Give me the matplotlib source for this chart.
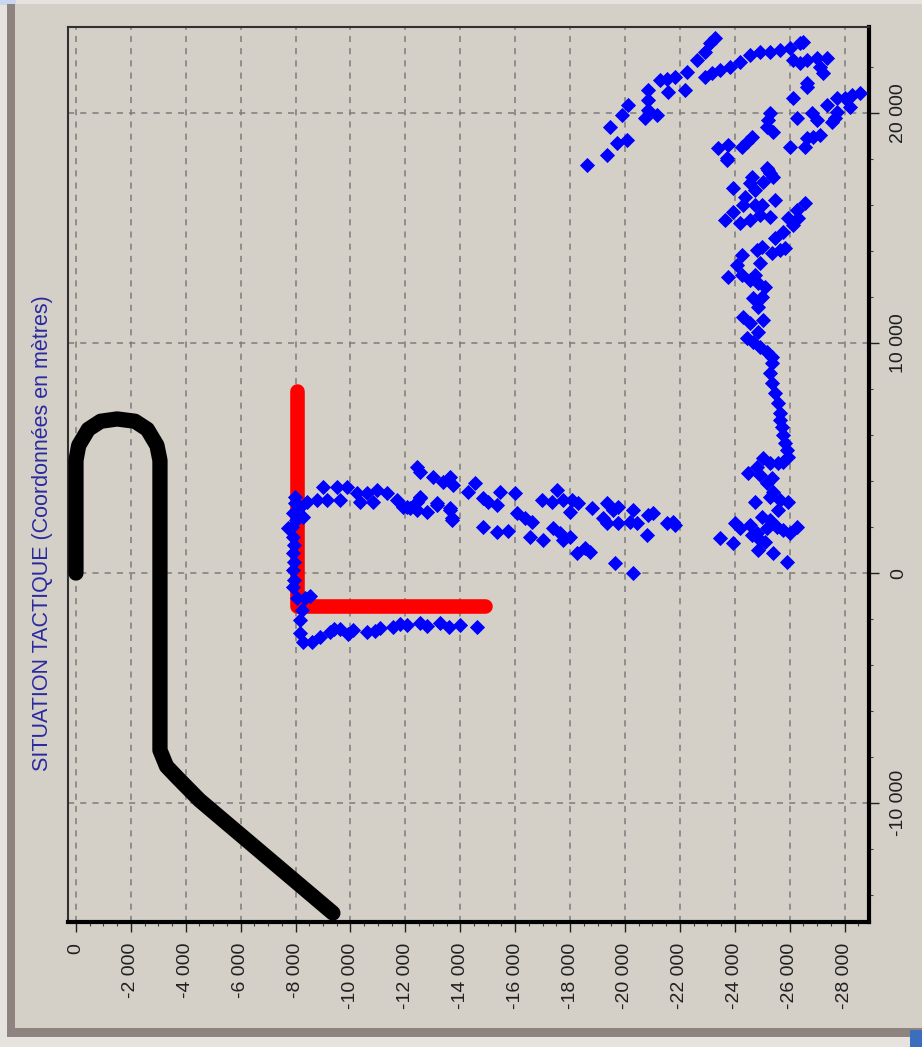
import numpy as np
import matplotlib
matplotlib.use("Agg")
import matplotlib.pyplot as plt
from matplotlib.patches import Rectangle
from matplotlib.ticker import MultipleLocator, FuncFormatter

plt.rcParams['font.family'] = ['Liberation Sans', 'DejaVu Sans']

TITLE = "SITUATION TACTIQUE (Coordonnées en mètres)"

# own ship track (black)
black_x = [0, 0, -100, -450, -900, -1500, -2150, -2600, -2950, -3060, -3060,
           -3300, -3700, -4500, -9360]
black_y = [0, 4900, 5550, 6250, 6600, 6700, 6600, 6250, 5550, 4900, -7700,
           -8400, -8900, -9870, -14780]

# second track (red)
red_x = [-8050, -8050, -14900]
red_y = [7900, -1450, -1450]

# contact positions (blue), metres
blue_lower = [
    (-14610, -2350), (-13990, -2260), (-13600, -2350), (-13260, -2170), (-12800, -2300),
    (-12530, -2170), (-12060, -2260), (-11800, -2200), (-11550, -2350), (-11080, -2390),
    (-10900, -2500), (-10600, -2570), (-10090, -2480), (-9900, -2650), (-9620, -2440),
    (-9400, -2450), (-9250, -2570), (-8890, -2780), (-8600, -3000), (-8270, -3000),
    (-8160, -2610), (-8160, -2040), (-8230, -1610), (-8340, -1090), (-8530, -1000),
    (-8050, -1090),
]
blue_left = [
    (-7910, -610), (-7950, -300), (-7910, 130), (-7950, 500), (-7910, 870), (-7950, 1200),
    (-7910, 1570), (-7720, 1960), (-7870, 2000), (-8000, 2300), (-7910, 2610), (-7980, 3040),
    (-7980, 3300), (-8270, 2440), (-8160, 2870), (-8420, 3090), (-8780, 3170), (-9140, 3170),
    (-9620, 3170), (-9000, 3740), (-9510, 3740), (-9870, 3740), (-10240, 3480), (-10600, 3480),
    (-10970, 3610), (-11330, 3480), (-11690, 3170), (-12060, 2870), (-12420, 2740),
    (-12790, 2650), (-12420, 3090), (-12530, 3300), (-13150, 3040), (-13630, 2740),
    (-13700, 2300), (-10350, 3090), (-10820, 3090),
]
blue_scatter = [
    (-12420, 4610), (-12530, 4390), (-13010, 4170), (-13370, 3960), (-13630, 4170),
    (-13730, 3830), (-13150, 2960), (-12530, 3260), (-11910, 2870), (-12170, 2830),
    (-13630, 2830), (-13700, 2390), (-14280, 3520), (-14540, 3910), (-14830, 3260),
    (-15010, 3090), (-15340, 2960), (-15450, 3520), (-15990, 3480), (-14830, 2000),
    (-15340, 1780), (-15740, 1830), (-16070, 2610), (-16360, 2390), (-16610, 2220),
    (-16540, 1570), (-17010, 1430), (-16980, 3170), (-17340, 3090), (-17520, 3610),
    (-17740, 3170), (-18070, 3170), (-18000, 2650), (-18290, 3040), (-17380, 1960),
    (-17630, 1740), (-17740, 1430), (-18000, 1570), (-18250, 870), (-18540, 1090),
    (-18730, 910), (-18800, 2830), (-19200, 2390), (-19340, 2170), (-19340, 3040),
    (-19560, 2740), (-19750, 2870), (-19750, 2170), (-19640, 430), (-20290, 0),
    (-20290, 2740), (-20180, 2220), (-20440, 2170), (-20800, 1650), (-20840, 2520),
    (-21020, 2610), (-21530, 2170), (-21750, 2220), (-21820, 2090),
]
blue_cluster = [
    (-23460, 1520), (-23940, 1300), (-24010, 2170), (-24190, 1960), (-24550, 2090),
    (-24630, 1650), (-24810, 1740), (-24920, 1430), (-24850, 1000), (-25100, 1350),
    (-25390, 870), (-25900, 480), (-24990, 2430), (-25280, 2300), (-25170, 1960),
    (-25540, 2000), (-25760, 1870), (-26010, 1740), (-26270, 2000), (-25570, 2740),
    (-25940, 3090), (-25650, 3170), (-24740, 3090), (-25280, 3300), (-25390, 3520),
    (-25170, 3910), (-25360, 4130), (-24920, 4260), (-24480, 4350), (-24810, 4610),
    (-25030, 5000), (-25280, 4780), (-25570, 4780), (-25760, 4830), (-25940, 5040),
    (-25900, 5350), (-25830, 5650), (-25760, 6000), (-25720, 6350), (-25650, 6650),
]
blue_strand = [
    (-25650, 6960), (-25570, 7390), (-25470, 7830), (-25360, 8260), (-25280, 8700),
    (-25360, 9130), (-25360, 9390), (-25170, 9610), (-24920, 9830), (-24660, 10040),
    (-24440, 10220), (-24850, 10480), (-24550, 10870), (-24300, 11130), (-25030, 11000),
    (-24850, 11570), (-24660, 11960), (-24990, 12000), (-25100, 12430), (-24850, 12610),
    (-24550, 12740), (-24740, 12960), (-24260, 12960), (-23750, 12870), (-24080, 13390),
    (-24920, 13480), (-24260, 13830), (-24810, 14040), (-24990, 14170), (-25360, 13910),
    (-25650, 14040), (-25830, 14130), (-25470, 14570), (-25760, 14830), (-26120, 15130),
    (-26300, 15430), (-25940, 15430), (-26560, 16090), (-26270, 15780), (-25280, 15480),
    (-24920, 15570), (-24550, 15350), (-24190, 15220), (-23640, 15350), (-23940, 15700),
    (-24300, 16000), (-24740, 16000), (-24990, 16000), (-25470, 16220), (-24370, 16350),
    (-24740, 16650), (-24550, 16960), (-25030, 17000), (-25280, 17390), (-25170, 17610),
    (-23940, 16740), (-23720, 17960),
]
blue_top = [
    (-18620, 17740), (-19340, 18170), (-19710, 18700), (-20070, 18830), (-19450, 19390),
    (-19890, 19910), (-20110, 20350), (-20730, 19780), (-20840, 20130), (-21170, 19910),
    (-20840, 20570), (-20840, 21000), (-21570, 20910), (-21280, 21440), (-21530, 21480),
    (-21820, 21570), (-22190, 21000), (-22260, 21780), (-22620, 22300), (-22910, 22650),
    (-23100, 23040), (-23280, 23260),
    (-22910, 21570), (-23170, 21740), (-23460, 21870), (-23830, 22000), (-24190, 22220),
    (-24550, 22520), (-24920, 22650), (-25280, 22650), (-25650, 22740), (-26010, 22830),
    (-26380, 23040), (-26490, 23090), (-26120, 22300), (-26380, 22170), (-26630, 22300),
    (-27000, 22390), (-27360, 22390), (-27100, 22000), (-27210, 21740), (-26630, 21300),
    (-26630, 21130), (-26120, 20650),
    (-27360, 20350), (-27720, 20650), (-28020, 20650), (-28270, 20780), (-28560, 20870),
    (-28200, 20260), (-27720, 20040), (-27650, 19780), (-27540, 19610), (-26810, 20000),
    (-27000, 19700), (-26270, 19780), (-27100, 19040), (-26850, 18960), (-26630, 18910),
    (-26560, 18520), (-26010, 18520),
    (-25280, 20000), (-25210, 19700), (-25170, 19390), (-25390, 19170), (-24630, 18960),
    (-24440, 18740), (-24260, 18520), (-23750, 18610), (-23390, 18480), (-23720, 18040),
    (-24630, 17220), (-25210, 17520), (-25390, 17220),
]

W, H = 922, 1047
fig = plt.figure(figsize=(W / 100, H / 100), dpi=100)
fig.patch.set_facecolor('#E6E2DE')


def px_rect(x0, y0, x1, y1, color):
    fig.add_artist(Rectangle((x0 / W, 1 - y1 / H), (x1 - x0) / W, (y1 - y0) / H,
                             transform=fig.transFigure, color=color, lw=0, zorder=-5))


# window frame
px_rect(0, 0, 16, 5, '#C9D7EE')
px_rect(7, 4, 922, 1037, '#8F837F')
px_rect(15, 4, 922, 1028, '#D4D0C8')
px_rect(910, 1030, 922, 1047, '#3C6EBE')

ax = fig.add_axes([68 / W, 1 - 922 / H, (869 - 68) / W, (922 - 27) / H])
ax.set_facecolor('#D4D0C8')

ax.plot(black_x, black_y, color='black', lw=11, solid_capstyle='round',
        solid_joinstyle='round', zorder=3)
ax.plot(red_x, red_y, color='#FF0000', lw=10.5, solid_capstyle='round', zorder=3)
blue = np.array(blue_lower + blue_left + blue_scatter + blue_cluster + blue_strand + blue_top)
ax.plot(blue[:, 0], blue[:, 1], 'D', color='#0000FF', ms=6.8, mec='#0000FF', mew=0.6, zorder=4)

ax.set_xlim(290, -28890)
ax.set_ylim(-15170, 23740)

ax.xaxis.set_major_locator(MultipleLocator(2000))
ax.xaxis.set_minor_locator(MultipleLocator(500))
ax.yaxis.set_major_locator(MultipleLocator(10000))
ax.yaxis.set_minor_locator(MultipleLocator(2000))
fmt = FuncFormatter(lambda v, p: f"{int(round(v)):,}".replace(",", " "))
ax.xaxis.set_major_formatter(fmt)
ax.yaxis.set_major_formatter(fmt)

ax.yaxis.tick_right()
ax.tick_params(axis='both', which='major', direction='out', length=7, width=1,
               colors='#202020', labelsize=14)
ax.tick_params(axis='both', which='minor', direction='out', length=3, width=0.8,
               colors='#404040')
ax.tick_params(axis='x', labelrotation=90, pad=8)
ax.tick_params(axis='y', pad=8)
for lab in ax.get_yticklabels():
    lab.set_rotation(90)
    lab.set_va('center')

ax.grid(True, which='major', color='#7C7C7C', linestyle=(0, (4, 4)), lw=1.1)
ax.set_axisbelow(True)

for side in ('left', 'top'):
    ax.spines[side].set_color('#303030')
    ax.spines[side].set_linewidth(1.5)
for side in ('right', 'bottom'):
    ax.spines[side].set_color('black')
    ax.spines[side].set_linewidth(3)

fig.text(43 / W, 1 - 533 / H, TITLE, rotation=90, ha='center', va='center',
         fontsize=15.5, color='#2A2AA0')

fig.savefig("out.png", dpi=100, facecolor=fig.get_facecolor())
